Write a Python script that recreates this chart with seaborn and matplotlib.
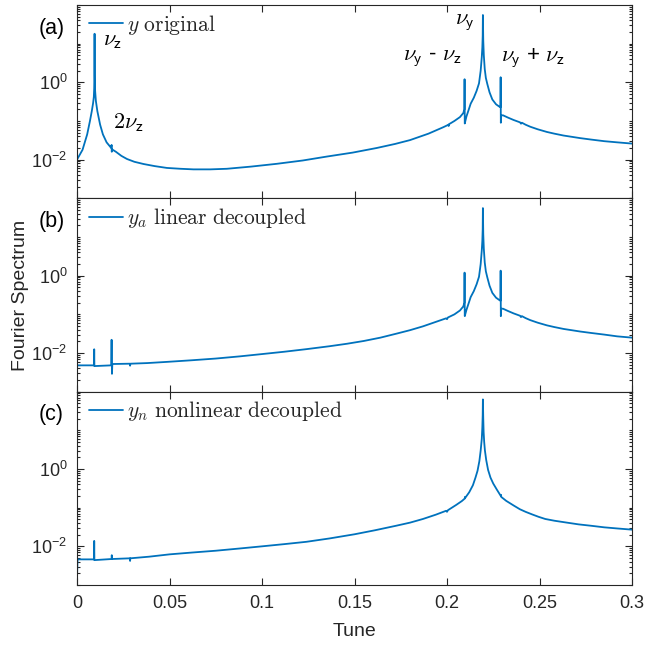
import numpy as np
import pandas as pd
import matplotlib
matplotlib.use("Agg")
import matplotlib.pyplot as plt
import matplotlib.ticker as mticker
from matplotlib.font_manager import FontProperties
import seaborn as sns

# (a) y original : (tune, spectrum)
tune_a = [0.0000, 0.0030, 0.0055, 0.0070, 0.0080, 0.0087, 0.0091, 0.0093, 0.0094, 0.0095,
          0.0096, 0.0098, 0.0102, 0.0110, 0.0125, 0.0140, 0.0160, 0.0185, 0.0187, 0.0188,
          0.0189, 0.0210, 0.0240, 0.0270, 0.0310, 0.0360, 0.0420, 0.0486, 0.0560, 0.0630,
          0.0720, 0.0810, 0.0940, 0.1080, 0.1220, 0.1350, 0.1490, 0.1620, 0.1720, 0.1800,
          0.1900, 0.1980, 0.2008, 0.2009, 0.2010, 0.2040, 0.2070, 0.2088, 0.2094, 0.2095,
          0.2096, 0.2105, 0.2118, 0.2128, 0.2145, 0.2160, 0.2173, 0.2182, 0.2188, 0.2191,
          0.2193, 0.2194, 0.2196, 0.2199, 0.2204, 0.2210, 0.2218, 0.2230, 0.2245, 0.2265,
          0.2280, 0.2289, 0.2290, 0.2291, 0.2293, 0.2303, 0.2330, 0.2360, 0.2395, 0.2400,
          0.2405, 0.2425, 0.2450, 0.2490, 0.2540, 0.2580, 0.2630, 0.2720, 0.2780, 0.2850,
          0.2920, 0.3000]
spec_a = [0.0100, 0.0180, 0.0450, 0.100, 0.180, 0.290, 0.420, 0.700, 1.50, 18.0,
          1.50, 0.600, 0.330, 0.180, 0.080, 0.045, 0.028, 0.020, 0.024, 0.016,
          0.0185, 0.0160, 0.0125, 0.0104, 0.0088, 0.0077, 0.0068, 0.0061, 0.0058, 0.0056,
          0.0056, 0.0058, 0.0066, 0.0078, 0.0095, 0.0120, 0.0152, 0.0200, 0.0255, 0.0320,
          0.0470, 0.0690, 0.0800, 0.074, 0.082, 0.100, 0.126, 0.160, 0.200, 1.20,
          0.086, 0.130, 0.200, 0.280, 0.400, 0.600, 0.940, 2.00, 4.50, 8.00,
          16.0, 55.0, 12.0, 5.00, 2.20, 1.30, 0.900, 0.550, 0.360, 0.270,
          0.240, 0.225, 1.35, 0.090, 0.140, 0.140, 0.122, 0.106, 0.092, 0.085,
          0.090, 0.080, 0.071, 0.061, 0.052, 0.047, 0.042, 0.036, 0.033, 0.030,
          0.028, 0.026]

# (b) y_a linear decoupled
tune_b = [0.0000, 0.0092, 0.0093, 0.0094, 0.0185, 0.0187, 0.0189, 0.0191, 0.0285, 0.0287,
          0.0289, 0.0380, 0.0485, 0.0620, 0.0750, 0.0880, 0.1000, 0.1120, 0.1240, 0.1365,
          0.1460, 0.1550, 0.1640, 0.1730, 0.1800, 0.1870, 0.1940, 0.1995, 0.2000, 0.2005,
          0.2040, 0.2070, 0.2088, 0.2094, 0.2095, 0.2096, 0.2105, 0.2118, 0.2128, 0.2145,
          0.2160, 0.2173, 0.2182, 0.2188, 0.2191, 0.2193, 0.2194, 0.2196, 0.2199, 0.2204,
          0.2210, 0.2218, 0.2230, 0.2245, 0.2265, 0.2280, 0.2289, 0.2290, 0.2291, 0.2293,
          0.2303, 0.2330, 0.2360, 0.2395, 0.2400, 0.2405, 0.2425, 0.2450, 0.2490, 0.2540,
          0.2580, 0.2630, 0.2720, 0.2780, 0.2850, 0.2920, 0.3000]
spec_b = [0.0048, 0.0048, 0.0125, 0.0046, 0.0048, 0.0220, 0.0029, 0.0052, 0.0053, 0.0047,
          0.0053, 0.0055, 0.0059, 0.0065, 0.0072, 0.0082, 0.0094, 0.0108, 0.0126, 0.0150,
          0.0174, 0.0205, 0.0250, 0.0320, 0.0390, 0.0490, 0.0640, 0.0790, 0.075, 0.083,
          0.100, 0.126, 0.160, 0.200, 1.20, 0.090, 0.130, 0.200, 0.280, 0.400,
          0.600, 0.940, 2.00, 4.50, 8.00, 16.0, 56.0, 12.0, 5.00, 2.20,
          1.30, 0.900, 0.550, 0.360, 0.270, 0.240, 0.225, 1.35, 0.090, 0.140,
          0.140, 0.122, 0.106, 0.092, 0.085, 0.090, 0.080, 0.071, 0.061, 0.052,
          0.047, 0.042, 0.036, 0.033, 0.030, 0.027, 0.025]

# (c) y_n nonlinear decoupled
tune_c = [0.0000, 0.0003, 0.0092, 0.0093, 0.0094, 0.0187, 0.0188, 0.0189, 0.0286, 0.0287,
          0.0288, 0.0390, 0.0500, 0.0620, 0.0750, 0.0880, 0.1000, 0.1120, 0.1240, 0.1365,
          0.1500, 0.1610, 0.1724, 0.1800, 0.1870, 0.1940, 0.1995, 0.2000, 0.2005, 0.2050,
          0.2080, 0.2096, 0.2097, 0.2098, 0.2120, 0.2140, 0.2154, 0.2165, 0.2175, 0.2182,
          0.2188, 0.2191, 0.2193, 0.2194, 0.2196, 0.2198, 0.2201, 0.2205, 0.2212, 0.2222,
          0.2235, 0.2250, 0.2270, 0.2291, 0.2292, 0.2293, 0.2320, 0.2360, 0.2394, 0.2425,
          0.2460, 0.2495, 0.2531, 0.2580, 0.2620, 0.2711, 0.2780, 0.2850, 0.2920, 0.3000]
spec_c = [0.0016, 0.0046, 0.0046, 0.0138, 0.0044, 0.0047, 0.0059, 0.0047, 0.0049, 0.0042,
          0.0049, 0.0054, 0.0062, 0.0069, 0.0077, 0.0088, 0.0100, 0.0114, 0.0131, 0.0160,
          0.0205, 0.0260, 0.0340, 0.0410, 0.0510, 0.0660, 0.0830, 0.078, 0.086, 0.118,
          0.148, 0.172, 0.190, 0.178, 0.250, 0.380, 0.600, 0.900, 1.60, 3.00,
          6.00, 12.0, 25.0, 63.0, 20.0, 9.00, 5.00, 3.00, 1.70, 0.950,
          0.600, 0.420, 0.290, 0.200, 0.215, 0.190, 0.150, 0.114, 0.091, 0.078,
          0.067, 0.058, 0.051, 0.046, 0.043, 0.037, 0.034, 0.031, 0.029, 0.027]

panel_tags = ['(a)', '(b)', '(c)']
legend_labels = [r'$y\ \mathrm{original}$',
                 r'$y_a\ \mathrm{linear\ decoupled}$',
                 r'$y_n\ \mathrm{nonlinear\ decoupled}$']
xtick_vals = [0, 0.05, 0.1, 0.15, 0.2, 0.25, 0.3]
xtick_labels = ['0', '0.05', '0.1', '0.15', '0.2', '0.25', '0.3']

sns.set_theme(style="ticks")
plt.rcParams['font.family'] = ['Liberation Sans', 'DejaVu Sans']
plt.rcParams['mathtext.fontset'] = 'dejavusans'

line_color = '#0072BD'
frame_color = '#262626'

fig = plt.figure(figsize=(6.45, 6.46), dpi=100)
left, width = 77 / 645, 555 / 645
h = 193.33 / 646
bottoms = [1 - 198.3 / 646, 1 - 391.7 / 646, 1 - 585 / 646]

data = [(tune_a, spec_a), (tune_b, spec_b), (tune_c, spec_c)]
axes = []
for i, (tx, sy) in enumerate(data):
    ax = fig.add_axes([left, bottoms[i], width, h])
    df = pd.DataFrame({'Tune': tx, 'Spectrum': sy})
    sns.lineplot(data=df, x='Tune', y='Spectrum', ax=ax, color=line_color, lw=1.3,
                 estimator=None, sort=False, label=legend_labels[i])
    ax.set_yscale('log')
    ax.set_xlim(0, 0.3)
    ax.set_ylim(1e-3, 1e2)
    ax.set_yticks([1e-2, 1e0])
    ax.set_yticklabels([r'$\mathregular{10^{-2}}$', r'$\mathregular{10^{0}}$'])
    ax.yaxis.set_minor_locator(mticker.LogLocator(base=10, subs=np.arange(1, 10), numticks=30))
    ax.yaxis.set_minor_formatter(mticker.NullFormatter())
    ax.set_xticks(xtick_vals)
    if i == 2:
        ax.set_xticklabels(xtick_labels)
        ax.set_xlabel('Tune', fontsize=14, labelpad=8)
    else:
        ax.set_xticklabels([])
        ax.set_xlabel('')
    ax.set_ylabel('')
    ax.tick_params(which='both', direction='in', top=True, right=True, color=frame_color,
                   labelsize=13, labelcolor='#262626', width=0.8)
    ax.tick_params(which='major', length=5, pad=7)
    ax.tick_params(which='minor', length=2.5)
    for s in ax.spines.values():
        s.set_color(frame_color)
        s.set_linewidth(0.8)
    ax.legend(loc='upper left', bbox_to_anchor=(0.022, 0.96), frameon=False,
              borderpad=0, borderaxespad=0, handlelength=1.55, handletextpad=0.22,
              prop=FontProperties(size=15.5, math_fontfamily='cm'))
    ax.text(-0.07, 0.88, panel_tags[i], transform=ax.transAxes, fontsize=15.5,
            ha='left', va='center', color='black')
    axes.append(ax)

axes[1].set_ylabel('Fourier Spectrum', fontsize=14, labelpad=2)

ann = dict(fontsize=16, math_fontfamily='cm', ha='left', va='center', color='black')
ax = axes[0]
ax.text(0.0142, 12, r'$\nu_\mathsf{z}$', **ann)
ax.text(0.0197, 0.09, r'$2\nu_\mathsf{z}$', **ann)
ax.text(0.2045, 36, r'$\nu_\mathsf{y}$', **ann)
ax.text(0.1764, 4.2, r'$\nu_\mathsf{y}$ - $\nu_\mathsf{z}$', **ann)
ax.text(0.2290, 4.2, r'$\nu_\mathsf{y}$ + $\nu_\mathsf{z}$', **ann)

fig.savefig('out.png', dpi=100)
